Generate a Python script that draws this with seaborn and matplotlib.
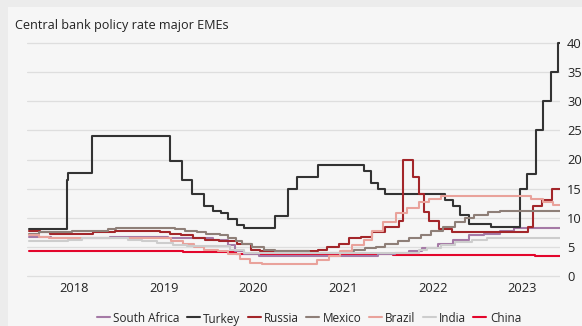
import pandas as pd
import seaborn as sns
import matplotlib.pyplot as plt
from matplotlib.patches import Rectangle

# change points of each policy rate (date the new rate applies, rate in %)
south_africa_dates = ["2018-01-01", "2018-03-29", "2018-11-23", "2019-07-19", "2020-01-17",
                      "2020-03-20", "2020-04-15", "2020-05-22", "2020-07-24", "2021-11-19",
                      "2022-01-28", "2022-03-25", "2022-05-20", "2022-07-22", "2022-09-23",
                      "2022-11-25", "2023-01-27", "2023-03-31", "2023-05-26"]
south_africa_rates = [6.75, 6.5, 6.75, 6.5, 6.25, 5.25, 4.25, 3.75, 3.5, 3.75,
                      4.0, 4.25, 4.75, 5.5, 6.25, 7.0, 7.25, 7.75, 8.25]

turkey_dates = ["2018-01-01", "2018-06-01", "2018-06-08", "2018-09-14", "2019-07-26",
                "2019-09-13", "2019-10-25", "2019-12-13", "2020-01-17", "2020-02-20",
                "2020-03-18", "2020-04-23", "2020-05-22", "2020-09-25", "2020-11-20",
                "2020-12-25", "2021-03-19", "2021-09-24", "2021-10-22", "2021-11-19",
                "2021-12-17", "2022-08-19", "2022-09-23", "2022-10-21", "2022-11-25",
                "2023-02-24", "2023-06-23", "2023-07-21", "2023-08-25", "2023-09-22",
                "2023-10-27", "2023-11-24"]
turkey_rates = [8.0, 16.5, 17.75, 24.0, 19.75, 16.5, 14.0, 12.0, 11.25, 10.75,
                9.75, 8.75, 8.25, 10.25, 15.0, 17.0, 19.0, 18.0, 16.0, 15.0,
                14.0, 13.0, 12.0, 10.5, 9.0, 8.5, 15.0, 17.5, 25.0, 30.0,
                35.0, 40.0]

russia_dates = ["2018-01-01", "2018-02-12", "2018-03-26", "2018-09-17", "2018-12-17",
                "2019-06-17", "2019-07-29", "2019-09-09", "2019-10-28", "2019-12-16",
                "2020-02-10", "2020-04-27", "2020-06-22", "2020-07-27", "2021-03-22",
                "2021-04-26", "2021-06-15", "2021-07-26", "2021-09-13", "2021-10-25",
                "2021-12-20", "2022-02-14", "2022-02-28", "2022-04-11", "2022-05-04",
                "2022-05-27", "2022-06-14", "2022-07-25", "2022-09-19", "2023-07-24",
                "2023-08-15", "2023-09-18", "2023-10-30"]
russia_rates = [7.75, 7.5, 7.25, 7.5, 7.75, 7.5, 7.25, 7.0, 6.5, 6.25,
                6.0, 5.5, 4.5, 4.25, 4.5, 5.0, 5.5, 6.5, 6.75, 7.5,
                8.5, 9.5, 20.0, 17.0, 14.0, 11.0, 9.5, 8.0, 7.5, 8.5,
                12.0, 13.0, 15.0]

mexico_dates = ["2018-01-01", "2018-02-09", "2018-06-22", "2018-11-16", "2018-12-21",
                "2019-08-16", "2019-09-27", "2019-11-15", "2019-12-20", "2020-02-14",
                "2020-03-20", "2020-04-22", "2020-05-15", "2020-06-26", "2020-08-14",
                "2020-09-25", "2021-02-12", "2021-06-25", "2021-08-13", "2021-09-30",
                "2021-11-12", "2021-12-17", "2022-02-11", "2022-03-25", "2022-05-13",
                "2022-06-24", "2022-08-12", "2022-09-30", "2022-11-11", "2022-12-16",
                "2023-02-10", "2023-03-31"]
mexico_rates = [7.25, 7.5, 7.75, 8.0, 8.25, 8.0, 7.75, 7.5, 7.25, 7.0,
                6.5, 6.0, 5.5, 5.0, 4.5, 4.25, 4.0, 4.25, 4.5, 4.75,
                5.0, 5.5, 6.0, 6.5, 7.0, 7.75, 8.5, 9.25, 10.0, 10.5,
                11.0, 11.25]

brazil_dates = ["2018-01-01", "2018-02-08", "2018-03-22", "2019-08-01", "2019-09-19",
                "2019-10-31", "2019-12-12", "2020-02-06", "2020-03-19", "2020-05-07",
                "2020-06-18", "2020-08-06", "2021-03-18", "2021-05-06", "2021-06-17",
                "2021-08-05", "2021-09-23", "2021-10-28", "2021-12-09", "2022-02-03",
                "2022-03-17", "2022-05-05", "2022-06-16", "2022-08-04", "2023-08-03",
                "2023-09-21", "2023-11-02"]
brazil_rates = [7.0, 6.75, 6.5, 6.0, 5.5, 5.0, 4.5, 4.25, 3.75, 3.0,
                2.25, 2.0, 2.75, 3.5, 4.25, 5.25, 6.25, 7.75, 9.25, 10.75,
                11.75, 12.75, 13.25, 13.75, 13.25, 12.75, 12.25]

india_dates = ["2018-01-01", "2018-06-06", "2018-08-01", "2019-02-07", "2019-04-04",
               "2019-06-06", "2019-08-07", "2019-10-04", "2020-03-27", "2020-05-22",
               "2022-05-04", "2022-06-08", "2022-08-05", "2022-09-30", "2022-12-07",
               "2023-02-08"]
india_rates = [6.0, 6.25, 6.5, 6.25, 6.0, 5.75, 5.4, 5.15, 4.4, 4.0,
               4.4, 4.9, 5.4, 5.9, 6.25, 6.5]

china_dates = ["2018-01-01", "2019-08-20", "2019-09-20", "2019-11-20", "2020-02-20",
               "2020-04-20", "2021-12-20", "2022-01-20", "2022-08-22", "2023-06-20",
               "2023-08-21"]
china_rates = [4.35, 4.25, 4.2, 4.15, 4.05, 3.85, 3.8, 3.7, 3.65, 3.55, 3.45]

countries = ["South Africa", "Turkey", "Russia", "Mexico", "Brazil", "India", "China"]
colors = ["#a57aa6", "#333333", "#a3262a", "#8e7f78", "#e9a29b", "#cdcdcd", "#e3062c"]
end_date = "2023-12-01"
year_ticks = ["2018", "2019", "2020", "2021", "2022", "2023"]

series = {
    "South Africa": (south_africa_dates, south_africa_rates),
    "Turkey": (turkey_dates, turkey_rates),
    "Russia": (russia_dates, russia_rates),
    "Mexico": (mexico_dates, mexico_rates),
    "Brazil": (brazil_dates, brazil_rates),
    "India": (india_dates, india_rates),
    "China": (china_dates, china_rates),
}

frames = []
for name in countries:
    d, r = series[name]
    frames.append(pd.DataFrame({"date": pd.to_datetime(d + [end_date]),
                                "rate": r + [r[-1]], "country": name}))
df = pd.concat(frames, ignore_index=True)

sns.set_style("white")
plt.rcParams["font.family"] = ["Open Sans", "DejaVu Sans"]

fig = plt.figure(figsize=(5.82, 3.26), dpi=100, facecolor="#ececec")
fig.patches.append(Rectangle((8 / 582, 0), 1, 1 - 7 / 326, transform=fig.transFigure,
                             facecolor="#f6f6f6", edgecolor="none", zorder=-1))

# axes placed so 0 % sits at y=276 px and 40 % at y=43 px
ax = fig.add_axes([27 / 582, (326 - 279) / 326, 533 / 582, 239 / 326])
ax.set_zorder(1)
ax.set_facecolor("#f6f6f6")

sns.lineplot(data=df, x="date", y="rate", hue="country", hue_order=countries,
             palette=colors, estimator=None, drawstyle="steps-post",
             linewidth=1.5, ax=ax)

# China underneath, South Africa on top
for i, line in enumerate(ax.lines):
    line.set_zorder(3 + (i + 1) % 7)

ax.set_xlim(pd.Timestamp("2017-12-22"), pd.Timestamp("2023-12-01"))
ax.set_ylim(-0.5, 40.5)
ax.set_yticks(range(0, 41, 5))
ax.set_xticks(pd.to_datetime([y + "-07-01" for y in year_ticks]))
ax.set_xticklabels(year_ticks)
ax.yaxis.tick_right()
ax.tick_params(axis="both", length=0, labelsize=9.3, colors="#222222")
ax.tick_params(axis="y", pad=5)
ax.tick_params(axis="x", pad=2)
ax.grid(axis="y", color="#dedede", linewidth=0.9)
ax.set_axisbelow(True)
for s in ax.spines.values():
    s.set_visible(False)
ax.set_xlabel("")
ax.set_ylabel("")

handles, labels = ax.get_legend_handles_labels()
ax.legend_.remove()
leg = fig.legend(handles, labels, loc="center", bbox_to_anchor=(309 / 582, 8 / 326),
                 ncol=7, frameon=False, fontsize=8.5, handlelength=1.1,
                 handletextpad=0.3, columnspacing=0.6, borderaxespad=0)

# the "y" descender makes its label pack a little higher; nudge it back to the row
for t in leg.get_texts():
    if t.get_text() == "Turkey":
        t.set_position((0, -1))

fig.text(15 / 582, 1 - 25 / 326, "Central bank policy rate major EMEs",
         fontsize=9.1, va="center", ha="left", color="#222222")

plt.savefig("out.png", dpi=100, facecolor=fig.get_facecolor())
